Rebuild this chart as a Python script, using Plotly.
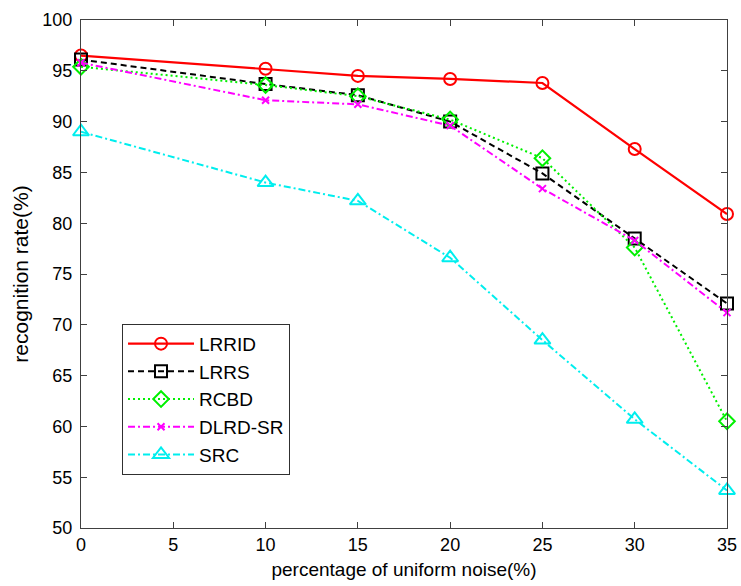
import plotly.graph_objects as go

noise = [0, 10, 15, 20, 25, 30, 35]
lrrid = [96.5, 95.2, 94.5, 94.2, 93.8, 87.3, 80.9]
lrrs = [96.1, 93.7, 92.6, 90.0, 84.9, 78.5, 72.1]
rcbd = [95.4, 93.6, 92.5, 90.2, 86.4, 77.6, 60.5]
dlrd_sr = [95.8, 92.1, 91.7, 89.6, 83.4, 78.3, 71.2]
src = [89.0, 84.0, 82.2, 76.6, 68.5, 60.7, 53.7]

x_ticks = [0, 5, 10, 15, 20, 25, 30, 35]
y_ticks = [50, 55, 60, 65, 70, 75, 80, 85, 90, 95, 100]

FONT = "Liberation Sans, Arial, sans-serif"

series = [
    ("LRRID", lrrid, "#ff0000", "solid", "circle-open", 12, 2.2),
    ("LRRS", lrrs, "#000000", "6px,4px", "square-open", 12, 2),
    ("RCBD", rcbd, "#00f000", "2px,3px", "diamond-open", 12, 2),
    ("DLRD-SR", dlrd_sr, "#ff00ff", "7px,3px,2px,3px", "x-thin-open", 7, 2),
    ("SRC", src, "#00eeee", "7px,3px,2px,3px", "triangle-up-open", 14, 2),
]

fig = go.Figure()
for name, vals, color, dash, sym, msize, lw in series:
    fig.add_trace(go.Scatter(
        x=noise, y=vals, name=name, mode="lines+markers",
        line=dict(color=color, width=lw, dash=dash),
        marker=dict(symbol=sym, size=msize, color=color,
                    line=dict(color=color, width=2)),
        cliponaxis=False,
    ))

axis_common = dict(
    showline=True, linecolor="#404040", linewidth=1, mirror="ticks",
    ticks="inside", ticklen=6, tickcolor="#404040", tickwidth=1,
    showgrid=False, zeroline=False, ticklabeloverflow="allow",
    tickfont=dict(family=FONT, size=18, color="#000000"),
)

fig.update_xaxes(
    range=[0, 35], tickvals=x_ticks, ticktext=[str(v) for v in x_ticks],
    title=dict(text="percentage of uniform noise(%)",
               font=dict(family=FONT, size=19, color="#000000"), standoff=9),
    automargin=False, ticklabelstandoff=0,
    **axis_common,
)
fig.update_yaxes(
    range=[50, 100], tickvals=y_ticks, ticktext=[str(v) for v in y_ticks],
    title=dict(text="recognition rate(%)",
               font=dict(family=FONT, size=21, color="#000000"), standoff=8),
    automargin=False, ticklabelstandoff=4,
    **axis_common,
)

fig.update_layout(
    width=741, height=586,
    margin=dict(l=81, r=14, t=20, b=58),
    paper_bgcolor="#ffffff", plot_bgcolor="#ffffff",
    showlegend=True,
    legend=dict(
        x=0.0635, y=0.402, xanchor="left", yanchor="top",
        bgcolor="#ffffff", bordercolor="#303030", borderwidth=1,
        font=dict(family=FONT, size=19, color="#000000"),
        itemwidth=66,
    ),
)

fig.write_html(
    "out.html",
    config={"displayModeBar": False},
    post_script="document.body.style.margin='0';document.body.style.overflow='hidden';",
)
